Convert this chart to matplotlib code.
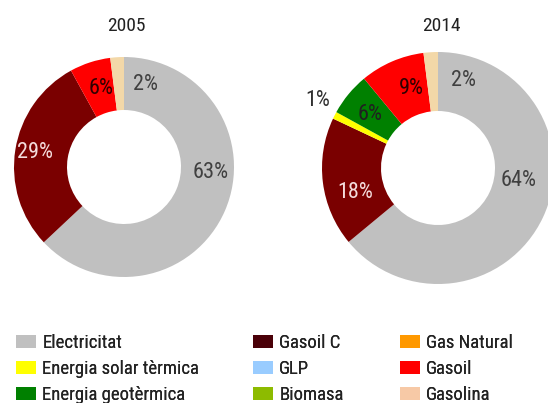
import numpy as np
import matplotlib
matplotlib.use("Agg")
import matplotlib.pyplot as plt
from matplotlib.patches import Patch

plt.rcParams['font.family'] = ['Roboto Condensed', 'Liberation Sans', 'DejaVu Sans']

# data
years = ['2005', '2014']
labels_2005 = ['Electricitat', 'Gasoil C', 'Gasoil', 'Gasolina']
values_2005 = [63, 29, 6, 2]
labels_2014 = ['Electricitat', 'Gasoil C', 'Energia solar tèrmica', 'Energia geotèrmica', 'Gasoil', 'Gasolina']
values_2014 = [64, 18, 1, 6, 9, 2]

legend_cols = [
    ['Electricitat', 'Energia solar tèrmica', 'Energia geotèrmica'],
    ['Gasoil C', 'GLP', 'Biomasa'],
    ['Gas Natural', 'Gasoil', 'Gasolina'],
]

colors = {
    'Electricitat': '#c0c0c0',
    'Energia solar tèrmica': '#ffff00',
    'Energia geotèrmica': '#008000',
    'Gasoil C': '#7a0000',
    'GLP': '#99ccff',
    'Biomasa': '#8dbb00',
    'Gas Natural': '#ff9900',
    'Gasoil': '#ff0000',
    'Gasolina': '#f3d8a8',
}
legend_colors = dict(colors)
legend_colors['Gasoil C'] = '#4a0008'
legend_colors['Gasolina'] = '#f7c9a6'

# layout in pixels (y measured from top)
W, H = 548, 403
pies = [
    dict(vals=values_2005, labs=labels_2005, cx=124, cy=167, r=110, rin=57, tx=126, ty=26,
         text_xy=[(211, 172), (35, 153), (101, 88), (146, 85)],
         text_col=['#404040', '#f4dcdc', '#300000', '#404040']),
    dict(vals=values_2014, labs=labels_2014, cx=438, cy=168, r=116, rin=57, tx=441, ty=26,
         text_xy=[(519, 180), (355, 193), (318, 100), (370, 115), (411, 88), (463, 80)],
         text_col=['#404040', '#f4dcdc', '#303030', '#202020', '#300000', '#404040']),
]
legend_x = [16, 253, 400]

fig = plt.figure(figsize=(W / 100, H / 100), dpi=100)
ax = fig.add_axes([0, 0, 1, 1])

for year, p in zip(years, pies):
    ax.pie(p['vals'], colors=[colors[l] for l in p['labs']], startangle=90, counterclock=False,
           center=(p['cx'], H - p['cy']), radius=p['r'],
           wedgeprops=dict(width=p['r'] - p['rin'], linewidth=0), frame=True)
    ax.text(p['tx'], H - p['ty'], year, ha='center', va='center', fontsize=14, color='#222222')
    for v, (x, y), c in zip(p['vals'], p['text_xy'], p['text_col']):
        ax.text(x, H - y, '%d%%' % v, ha='center', va='center', fontsize=16, color=c)

ax.set_xlim(0, W)
ax.set_ylim(0, H)
ax.set_aspect('equal')
ax.axis('off')

for x0, col in zip(legend_x, legend_cols):
    handles = [Patch(facecolor=legend_colors[l], edgecolor='none') for l in col]
    leg = fig.legend(handles, col, loc='upper left', bbox_to_anchor=(x0 / W, 1 - 334 / H),
                     frameon=False, fontsize=13.5, handlelength=1.07, handleheight=0.7,
                     handletextpad=0.33, labelspacing=0.42, borderpad=0, borderaxespad=0)
    for t in leg.get_texts():
        t.set_color('#222222')
    fig.add_artist(leg)

fig.savefig('out.png', dpi=100)
